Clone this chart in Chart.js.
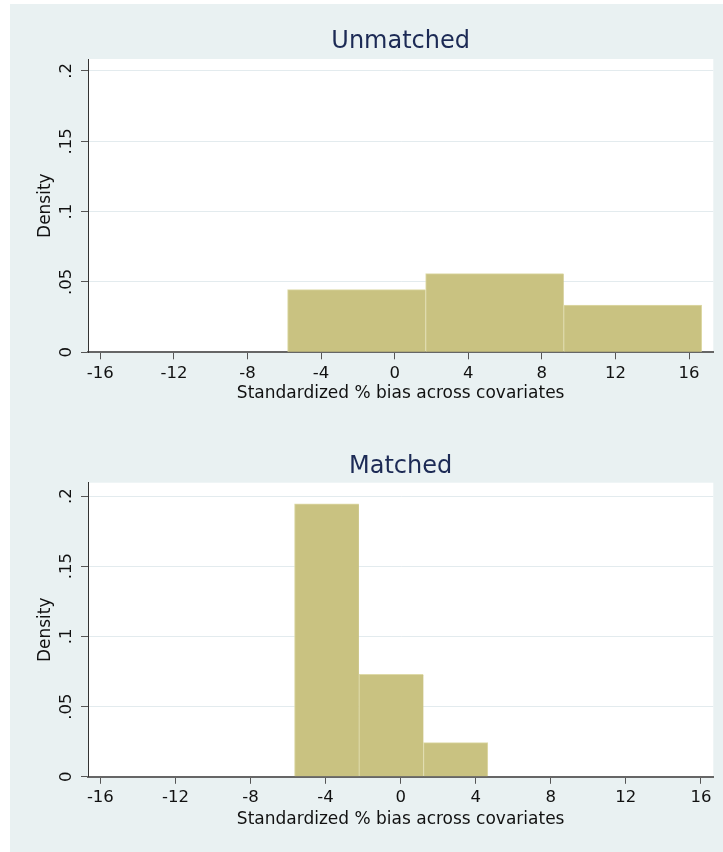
<!DOCTYPE html>
<html><head><meta charset="utf-8">
<script src="https://cdn.jsdelivr.net/npm/chart.js@4.4.0/dist/chart.umd.min.js"></script>
<style>
html,body{margin:0;padding:0;background:#ffffff;}
#wrap{position:relative;width:723px;height:852px;overflow:hidden;}
#bg{position:absolute;left:10px;top:4px;width:713px;height:848px;background:#e9f1f2;}
canvas{position:absolute;left:0;}
#c1{top:0px;}
#c2{top:426px;}
</style></head><body>
<div id="wrap"><div id="bg"></div>
<canvas id="c1" width="723" height="426"></canvas>
<canvas id="c2" width="723" height="426"></canvas>
</div>
<script>
// ---- data ----
const panelTitles = ['Unmatched', 'Matched'];
const unmatchedBinEdges = [-5.82, 1.68, 9.19, 16.69];
const unmatchedDensity = [0.0446, 0.0559, 0.0335];
const matchedBinEdges = [-5.67, -2.21, 1.21, 4.65];
const matchedDensity = [0.1945, 0.0730, 0.0244];
const xTickValues = [-16, -12, -8, -4, 0, 4, 8, 12, 16];
const xTickLabels = ['-16', '-12', '-8', '-4', '0', '4', '8', '12', '16'];
const yTickValues = [0, 0.05, 0.1, 0.15, 0.2];
const yTickLabels = ['0', '.05', '.1', '.15', '.2'];
const xAxisTitle = 'Standardized % bias across covariates';
const yAxisTitle = 'Density';

// ---- styling / layout ----
const FONT = "'DejaVu Sans', sans-serif";
const BAR_FILL = '#c9c281';
const BAR_EDGE = '#dedaa8';
const TITLE_COLOR = '#1c2a55';

const plotBg = {
  id: 'plotBg',
  beforeDraw(chart) {
    const a = chart.chartArea, ctx = chart.ctx;
    ctx.save(); ctx.fillStyle = '#ffffff';
    ctx.fillRect(a.left, a.top, a.right - a.left, a.bottom - a.top);
    ctx.restore();
  }
};

function makePanel(canvasId, title, edges, dens, L) {
  const pts = dens.map((d, i) => ({ x: (edges[i] + edges[i + 1]) / 2, y: d }));
  const last = dens.length - 1;
  return new Chart(document.getElementById(canvasId), {
    type: 'bar',
    data: {
      datasets: [{
        data: pts,
        xAxisID: 'xb',
        backgroundColor: BAR_FILL,
        borderColor: BAR_EDGE,
        borderSkipped: false,
        borderWidth: (c) => ({ top: 1, left: 1, right: c.dataIndex === last ? 1 : 0, bottom: 0 }),
        categoryPercentage: 1,
        barPercentage: 1
      }]
    },
    plugins: [plotBg],
    options: {
      responsive: false,
      animation: false,
      devicePixelRatio: 1,
      layout: { padding: { left: 10, right: 9.7, top: 0, bottom: 0 } },
      plugins: {
        legend: { display: false },
        tooltip: { enabled: false },
        title: {
          display: true, text: title, fullSize: false,
          color: TITLE_COLOR,
          font: { family: FONT, size: 24, weight: 'normal', lineHeight: 1.2 },
          padding: { top: L.tTop, bottom: L.tBottom }
        }
      },
      scales: {
        xb: {
          type: 'linear', display: false, min: L.xMin, max: L.xMax,
          offset: false, grid: { offset: false },
          afterBuildTicks: (s) => { s.ticks = []; }
        },
        x: {
          type: 'linear', position: 'bottom', min: L.xMin, max: L.xMax,
          offset: false,
          afterBuildTicks: (s) => { s.ticks = xTickValues.map(v => ({ value: v })); },
          afterFit: (s) => { s.height = L.xH; },
          ticks: {
            autoSkip: false, maxRotation: 0, minRotation: 0,
            padding: L.xTickPad, color: '#111111',
            font: { family: FONT, size: 16.5, lineHeight: 1.2 },
            callback: (v, i) => xTickLabels[i]
          },
          grid: { offset: false, drawOnChartArea: false, drawTicks: true, tickLength: 7, tickColor: '#555555', tickWidth: 1 },
          border: { display: true, color: '#666666', width: 2 },
          title: {
            display: true, text: xAxisTitle, color: '#111111',
            font: { family: FONT, size: 17, lineHeight: 1.2 },
            padding: { top: 0, bottom: L.xTitlePad }
          }
        },
        y: {
          type: 'linear', position: 'left', min: 0, max: L.yMax,
          afterBuildTicks: (s) => { s.ticks = yTickValues.map(v => ({ value: v })); },
          afterFit: (s) => { s.width = 78; },
          ticks: {
            autoSkip: false, minRotation: 90, maxRotation: 90, crossAlign: 'center',
            padding: 1.6, color: '#111111',
            font: { family: FONT, size: 16.5, lineHeight: 1.2 },
            callback: (v, i) => yTickLabels[i]
          },
          grid: { color: '#e3ebee', lineWidth: 1, drawTicks: true, tickLength: 7, tickColor: '#555555', tickWidth: 1 },
          border: { display: true, color: '#333333', width: 1 },
          title: {
            display: true, text: yAxisTitle, color: '#111111',
            font: { family: FONT, size: 17, lineHeight: 1.2 },
            padding: { top: 25.1, bottom: 0 }
          }
        }
      }
    }
  });
}

makePanel('c1', panelTitles[0], unmatchedBinEdges, unmatchedDensity,
  { xMin: -16.67, xMax: 17.32, yMax: 0.2085, tTop: 27.4, tBottom: 2.8, xH: 73.7, xTickPad: 4.1, xTitlePad: 21.8 });
makePanel('c2', panelTitles[1], matchedBinEdges, matchedDensity,
  { xMin: -16.66, xMax: 16.66, yMax: 0.2095, tTop: 26.2, tBottom: 1.7, xH: 75.2, xTickPad: 4.0, xTitlePad: 22.6 });
</script>
</body></html>
